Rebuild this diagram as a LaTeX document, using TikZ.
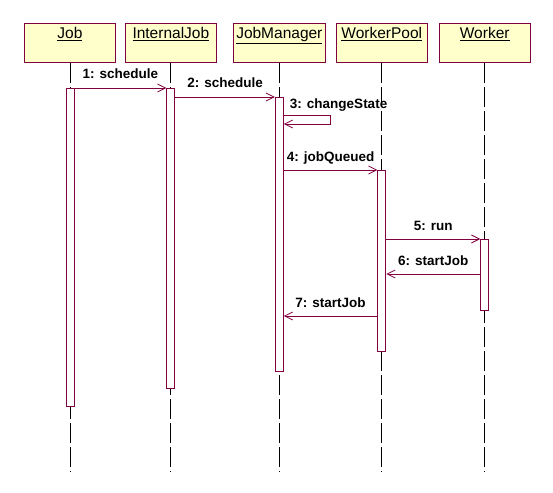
\documentclass[tikz,border=0pt]{standalone}
\usepackage{xcolor}
\usepackage{fontspec}
\setmainfont{Liberation Sans}
\usepackage{tikz}
\usetikzlibrary{arrows.meta,positioning,calc}
\definecolor{SqMaroon}{HTML}{800040}
\definecolor{SqCream}{HTML}{FFFFCC}
\definecolor{SqWhite}{RGB}{255,255,255}
\colorlet{SqBorder}{SqMaroon}
\colorlet{SqLife}{black}
\tikzset{
  objbox/.style={draw=SqBorder, fill=SqCream, line width=0.9pt,
    minimum width=91pt, inner sep=3pt, text height=12pt, text depth=21pt,
    font=\fontsize{15.5}{17}\selectfont},
  lifeline/.style={draw=SqLife, line width=0.9pt, dash pattern=on 20pt off 4pt},
  actbar/.style={draw=SqBorder, fill=SqWhite, line width=0.9pt,
    minimum width=8pt, inner sep=0pt, anchor=north},
  msg/.style={draw=SqMaroon, line width=0.8pt,
    -{Straight Barb[length=8pt,width=8pt,line width=0.8pt]}},
  msglabel/.style={font=\bfseries\fontsize{13.5}{15}\selectfont, inner sep=0pt}
}

\begin{document}
\begin{tikzpicture}[x=1pt, y=-1pt]
  \useasboundingbox (0,0) rectangle (553,492);

  % objects
  \node[objbox, anchor=north west] (job) at (24,23) {\underline{Job}};
  \node[objbox, right=9pt of job]  (ijob) {\underline{InternalJob}};
  \node[objbox, right=16pt of ijob] (jman) {\underline{JobManager}};
  \node[objbox, right=10pt of jman] (wpool) {\underline{WorkerPool}};
  \node[objbox, right=11pt of wpool] (wrk) {\underline{Worker}};

  % lifelines
  \foreach \obj in {job,ijob,jman,wpool,wrk}{
    \coordinate (\obj End) at (\obj.south |- 0,471);
    \draw[lifeline] (\obj.south) -- (\obj End);
  }

  % activations
  \node[actbar, minimum height=318pt] (jobAct)   at (job.south |- 0,88)   {};
  \node[actbar, minimum height=300pt] (ijobAct)  at (ijob.south |- 0,88)  {};
  \node[actbar, minimum height=274pt] (jmanAct)  at (jman.south |- 0,97)  {};
  \node[actbar, minimum height=181pt] (wpoolAct) at (wpool.south |- 0,170) {};
  \node[actbar, minimum height=71pt]  (wrkAct)   at (wrk.south |- 0,239)  {};

  % messages
  \draw[msg] (jobAct.north east) -- (ijobAct.north west)
    node[msglabel, midway, anchor=base, yshift=9pt] {1: schedule};
  \draw[msg] (ijobAct.east |- jmanAct.north) -- (jmanAct.north west)
    node[msglabel, midway, anchor=base, yshift=9pt] {2: schedule};
  \coordinate (m3) at ([yshift=-18pt]jmanAct.north east);
  \draw[msg] (m3) -- ++(47,0) -- ++(0,9) -- ([yshift=-27pt]jmanAct.north east);
  \node[msglabel, anchor=base west] (m3lbl) at ([xshift=6pt,yshift=7pt]m3) {3: changeState};
  \draw[msg] (jmanAct.east |- wpoolAct.north) -- (wpoolAct.north west)
    node[msglabel, midway, anchor=base, yshift=9pt] {4: jobQueued};
  \draw[msg] (wpoolAct.east |- wrkAct.north) -- (wrkAct.north west)
    node[msglabel, midway, anchor=base, yshift=9pt] {5: run};
  \coordinate (m6) at ([yshift=-35pt]wrkAct.north west);
  \draw[msg] (m6) -- (wpoolAct.east |- m6)
    node[msglabel, midway, anchor=base, yshift=9pt] {6: startJob};
  \coordinate (m7) at (wpoolAct.west |- 0,316);
  \draw[msg] (m7) -- (jmanAct.east |- m7)
    node[msglabel, midway, anchor=base, yshift=9pt] {7: startJob};
\end{tikzpicture}
\end{document}
